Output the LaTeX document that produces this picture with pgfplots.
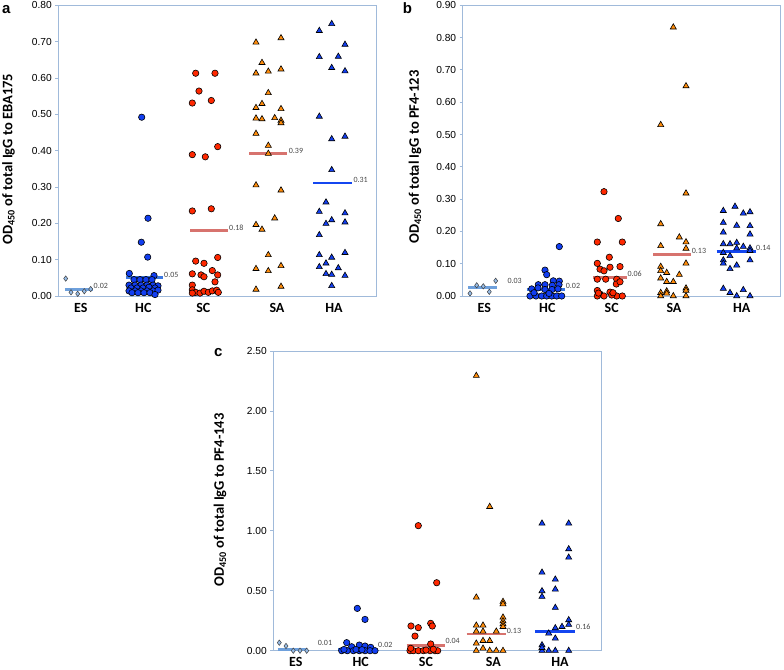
\documentclass[border=0pt]{standalone}
\usepackage{fontspec}
\setmainfont{Carlito}
\newfontfamily\arial{Liberation Sans}
\usepackage{pgfplots}
\pgfplotsset{compat=1.18}
\definecolor{frame}{RGB}{160,186,218}
\definecolor{esfill}{RGB}{150,188,232}
\definecolor{blueM}{RGB}{18,62,240}
\definecolor{redM}{RGB}{255,40,0}
\definecolor{orangeM}{RGB}{255,140,10}
\definecolor{esline}{RGB}{110,160,220}
\definecolor{hcline}{RGB}{60,120,225}
\definecolor{pinkline}{RGB}{215,115,110}
\definecolor{haline}{RGB}{20,70,240}
\definecolor{lbl}{RGB}{70,70,70}
\tikzset{mlab/.style={anchor=west, font=\fontsize{8}{8}\selectfont, text=lbl, inner sep=0pt}}
\pgfplotsset{
  panel/.style={scale only axis, clip=false, anchor=south west,
    axis line style={color=frame, line width=0.8pt},
    ymin=0, xtick style={draw=none}, ytick style={color=frame, line width=0.8pt},
    tick align=outside, major tick length=3pt, ytick pos=left,
    /pgf/number format/assume math mode=true,
    yticklabel style={font=\arial\fontsize{10.2}{10}\selectfont, /pgf/number format/.cd, fixed, fixed zerofill, precision=2},
    xticklabel style={font=\bfseries\fontsize{14}{14}\selectfont, yshift=-0.5pt},
    xticklabels={ES,HC,SC,SA,HA},
    ylabel style={font=\bfseries\fontsize{14.5}{15}\selectfont, anchor=center},
  },
  esm/.style={only marks, mark=diamond*, mark size=2.7pt, mark options={fill=esfill, draw=black!75, line width=0.5pt}},
  hcm/.style={only marks, mark=*, mark size=3.2pt, mark options={fill=blueM, draw=black, line width=0.6pt}},
  scm/.style={only marks, mark=*, mark size=3.2pt, mark options={fill=redM, draw=black, line width=0.6pt}},
  sam/.style={only marks, mark=triangle*, mark size=3.5pt, mark options={fill=orangeM, draw=black, line width=0.6pt}},
  ham/.style={only marks, mark=triangle*, mark size=3.5pt, mark options={fill=blueM, draw=black, line width=0.6pt}},
  med/.style={line width=2.9pt},
}
\begin{document}
\begin{tikzpicture}[x=1pt,y=1pt]
\path[use as bounding box] (0,0) rectangle (784,669);
% ---------------- panel a ----------------
\begin{axis}[panel, at={(58.3pt,373pt)}, width=318.4pt, height=290.7pt,
  xmin=58.3, xmax=376.7, ymax=0.8,
  ytick={0,0.1,0.2,0.3,0.4,0.5,0.6,0.7,0.8},
  xtick={80.7,143.3,203.3,277,334},
  ylabel={OD\textsubscript{450} of total IgG to EBA175},
  ylabel style={at={(axis description cs:-0.156,0.471)}}]
\addplot[esm] table {
x y
65.7 0.048
71 0.010
77.7 0.006
84.3 0.013
90.7 0.019
};
\addplot[hcm] table {
x y
141.7 0.492
148 0.214
141.3 0.148
147.7 0.107
129.3 0.062
154 0.056
134 0.045
140 0.045
146 0.045
152 0.045
129 0.030
135 0.030
141 0.030
147 0.030
153 0.030
158 0.028
131 0.022
137 0.022
143 0.022
149 0.024
155 0.022
129 0.014
135 0.014
141 0.014
147 0.014
153 0.014
158 0.016
132 0.009
138 0.009
144 0.009
150 0.009
155 0.004
};
\addplot[scm] table {
x y
195.7 0.613
215 0.613
199 0.564
192.3 0.531
211.3 0.538
192.3 0.389
205.3 0.383
217.7 0.411
192.3 0.234
211.3 0.240
195.7 0.096
204 0.090
217.7 0.106
192.3 0.061
201 0.058
204 0.053
212.3 0.070
217.7 0.058
215 0.039
192.3 0.030
192.3 0.017
195.7 0.010
200 0.008
204 0.013
208.3 0.010
212.3 0.014
216.7 0.016
218.3 0.010
192.3 0.008
};
\addplot[sam] table {
x y
256 0.698
281 0.710
262 0.642
256 0.613
268.3 0.618
281 0.624
268.3 0.559
256 0.518
262 0.529
281 0.515
256 0.489
262 0.487
274.7 0.490
281 0.483
281 0.476
256 0.447
268.3 0.414
268.3 0.392
256 0.305
281 0.291
274.7 0.214
256 0.196
262 0.183
268.3 0.113
256 0.075
268.3 0.069
281 0.083
256 0.018
281 0.026
};
\addplot[ham] table {
x y
319.3 0.730
331.7 0.749
345 0.692
319.3 0.658
338.3 0.659
331.7 0.628
345 0.619
319.3 0.494
331.7 0.432
345 0.439
331.7 0.347
326 0.258
319.3 0.232
345 0.228
326 0.199
331.7 0.209
345 0.203
319.3 0.168
319.3 0.113
345 0.119
331.7 0.106
319.3 0.080
326 0.090
338.3 0.077
326 0.061
331.7 0.059
345 0.056
331.7 0.028
};
\addplot[med, esline] coordinates {(65,0.018) (93.3,0.018)};
\addplot[med, hcline] coordinates {(126,0.051) (163.3,0.051)};
\addplot[med, pinkline] coordinates {(190,0.180) (228.3,0.180)};
\addplot[med, pinkline] coordinates {(249.3,0.391) (287.3,0.391)};
\addplot[med, haline] coordinates {(313.3,0.311) (351.7,0.311)};
\node[mlab] at (axis cs:93.5,0.029) {0.02};
\node[mlab] at (axis cs:164,0.059) {0.05};
\node[mlab] at (axis cs:229,0.189) {0.18};
\node[mlab] at (axis cs:288.7,0.400) {0.39};
\node[mlab] at (axis cs:353.3,0.319) {0.31};
\end{axis}
% ---------------- panel b ----------------
\begin{axis}[panel, at={(462.7pt,373pt)}, width=318pt, height=290.7pt,
  xmin=462.7, xmax=780.7, ymax=0.9,
  ytick={0,0.1,0.2,0.3,0.4,0.5,0.6,0.7,0.8,0.9},
  xtick={484.3,547.3,611.7,674,741.7},
  ylabel={OD\textsubscript{450} of total IgG to PF4-123},
  ylabel style={at={(axis description cs:-0.15,0.478)}}]
\addplot[esm] table {
x y
470 0.008
476.7 0.033
483.3 0.030
489.3 0.013
495.7 0.047
};
\addplot[hcm] table {
x y
559.3 0.153
545 0.080
546.7 0.066
553.3 0.047
559.3 0.046
538.3 0.035
545 0.035
552.3 0.033
559 0.035
531.7 0.022
538 0.025
545 0.020
552 0.020
558 0.022
530 0.0
536 0.0
541.7 0.0
546.7 0.0
551.7 0.0
556.7 0.0
561.7 0.0
534 0.010
549 0.008
};
\addplot[scm] table {
x y
604 0.323
618.3 0.240
597.3 0.167
622.3 0.167
597.3 0.101
609.3 0.120
600 0.083
604 0.078
610 0.089
620 0.091
597.3 0.052
605.7 0.052
616.7 0.052
616.3 0.037
620 0.044
597.3 0.017
600 0.006
610 0.012
604 0.0
597.3 0.0
616.7 0.0
622.3 0.0
611.7 0.003
613 0.010
598.5 0.009
};
\addplot[sam] table {
x y
673.3 0.832
686 0.650
660.7 0.530
686 0.318
660.7 0.223
679.3 0.182
686 0.167
660.7 0.155
686 0.147
686 0.101
660.7 0.091
660.7 0.078
666.7 0.072
679.3 0.066
660.7 0.055
666.7 0.044
673.3 0.044
660.7 0.010
666.7 0.015
666.7 0.008
686 0.024
686 0.017
660.7 0.0
673.3 0.0
686 0.0
};
\addplot[ham] table {
x y
735 0.277
723.3 0.264
743.3 0.256
750 0.260
723.3 0.227
736.7 0.218
750 0.217
723.3 0.197
750 0.191
723.3 0.161
730 0.161
736.7 0.165
743.3 0.153
736.7 0.148
750 0.148
723.3 0.134
730 0.124
736.7 0.095
750 0.140
750 0.111
723.3 0.111
730 0.084
723.3 0.101
723.3 0.023
730 0.010
743.3 0.019
736.7 0.0
750 0.0
};
\addplot[med, esline] coordinates {(468.3,0.027) (497.3,0.027)};
\addplot[med, hcline] coordinates {(526.7,0.021) (565,0.021)};
\addplot[med, pinkline] coordinates {(593.3,0.058) (627.3,0.058)};
\addplot[med, pinkline] coordinates {(653.3,0.128) (691,0.128)};
\addplot[med, haline] coordinates {(716.7,0.138) (756,0.138)};
\node[mlab] at (axis cs:507.3,0.046) {0.03};
\node[mlab] at (axis cs:565.7,0.031) {0.02};
\node[mlab] at (axis cs:627.3,0.068) {0.06};
\node[mlab] at (axis cs:691.7,0.140) {0.13};
\node[mlab] at (axis cs:756,0.150) {0.14};
\end{axis}
% ---------------- panel c ----------------
\begin{axis}[panel, at={(273.3pt,18.3pt)}, width=328.4pt, height=299.7pt,
  xmin=273.3, xmax=601.7, ymax=2.5,
  ytick={0,0.5,1,1.5,2,2.5},
  xtick={295.7,360.7,426,493.3,560},
  ylabel={OD\textsubscript{450} of total IgG to PF4-143},
  ylabel style={at={(axis description cs:-0.162,0.503)}}]
\addplot[esm] table {
x y
279.3 0.067
286 0.039
293.3 0.0
300 0.0
306.7 0.0
};
\addplot[hcm] table {
x y
357.3 0.353
365 0.261
346.7 0.067
351.7 0.033
359.3 0.047
365 0.039
370.7 0.028
341.7 0.0
347.3 0.0
353.3 0.0
359.3 0.0
365 0.0
370 0.0
375 0.0
344 0.010
356 0.010
362 0.008
};
\addplot[scm] table {
x y
418.3 1.043
436.7 0.567
411 0.206
418.3 0.192
430.7 0.228
432.3 0.206
415 0.122
430.7 0.056
410 0.0
413.3 0.0
418.3 0.0
423.3 0.0
430 0.0
435 0.0
437.7 0.0
410.7 0.020
433.3 0.012
426 0.005
};
\addplot[sam] table {
x y
476.3 2.294
489.7 1.201
476.3 0.445
503 0.409
503 0.389
503 0.278
503 0.247
503 0.222
503 0.200
476.3 0.211
483 0.211
476.3 0.161
483 0.161
496.3 0.161
476.3 0.061
483 0.083
489.7 0.083
483 0.019
476.3 0.0
489.7 0.0
496.3 0.0
503 0.0
};
\addplot[ham] table {
x y
542 1.062
568.7 1.062
568.7 0.848
568.7 0.778
542 0.653
555.3 0.595
542 0.498
555.3 0.512
542 0.451
555.3 0.359
568.7 0.256
568.7 0.217
562 0.200
555.3 0.189
548.7 0.145
555.3 0.103
542 0.047
542 0.0
548.7 0.0
555.3 0.0
568.7 0.0
542 0.025
};
\addplot[med, esline] coordinates {(277.7,0.010) (307.3,0.010)};
\addplot[med, hcline] coordinates {(338.3,0.014) (376.7,0.014)};
\addplot[med, pinkline] coordinates {(406.7,0.047) (445,0.047)};
\addplot[med, pinkline] coordinates {(466.7,0.139) (506,0.139)};
\addplot[med, haline] coordinates {(535,0.161) (575,0.161)};
\node[mlab] at (axis cs:317.7,0.067) {0.01};
\node[mlab] at (axis cs:378,0.044) {0.02};
\node[mlab] at (axis cs:445.3,0.078) {0.04};
\node[mlab] at (axis cs:506.7,0.167) {0.13};
\node[mlab] at (axis cs:576,0.195) {0.16};
\end{axis}
% panel letters
\node[anchor=base, font=\arial\bfseries\fontsize{15}{15}\selectfont, inner sep=0pt] at (6.3,655.7) {a};
\node[anchor=base, font=\arial\bfseries\fontsize{15}{15}\selectfont, inner sep=0pt] at (407.5,655.7) {b};
\node[anchor=base, font=\arial\bfseries\fontsize{15}{15}\selectfont, inner sep=0pt] at (218.3,312.3) {c};
\end{tikzpicture}
\end{document}
